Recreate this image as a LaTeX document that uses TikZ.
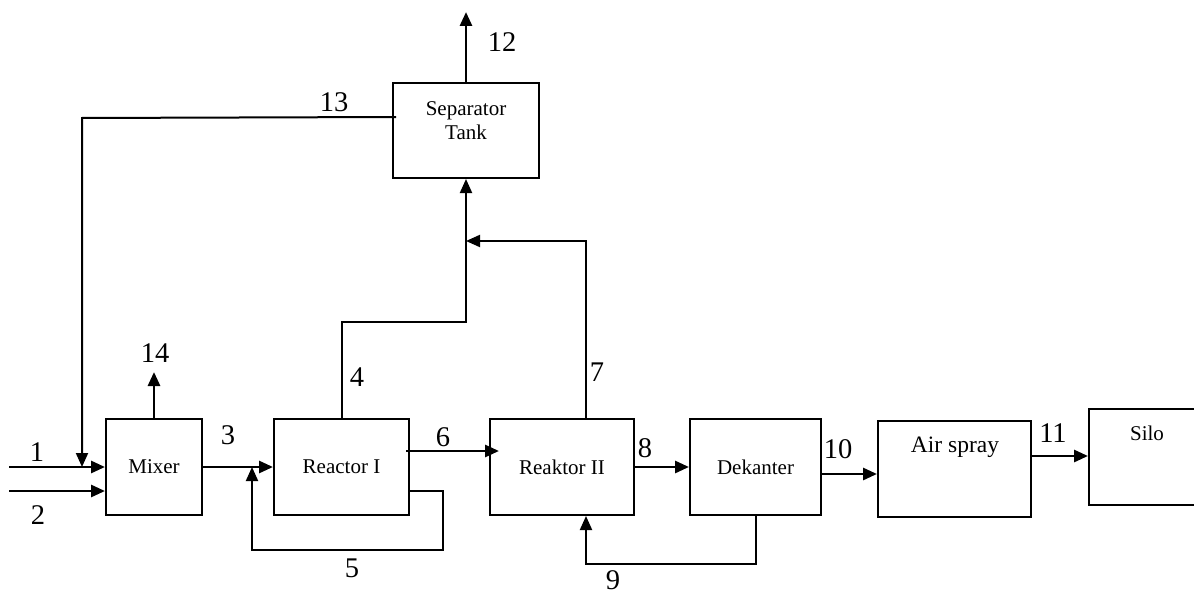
\documentclass[tikz,border=0pt]{standalone}
\usepackage{fontspec}
\setmainfont{Liberation Serif}
\usetikzlibrary{arrows.meta,calc}
\begin{document}
\begin{tikzpicture}[x=1pt,y=-1pt,
  box/.style={draw,line width=2pt,rectangle,inner sep=0pt,font=\fontsize{21}{24}\selectfont},
  boxtext/.style={inner sep=0pt,align=center,font=\fontsize{21}{24}\selectfont},
  flow/.style={line width=2.8pt,-{Triangle[length=14pt,width=12pt]}},
  pipe/.style={line width=2pt},
  pipearrow/.style={line width=2pt,-{Triangle[length=14pt,width=12pt]}},
  num/.style={font=\fontsize{28.5}{30}\selectfont,inner sep=0pt}]
\useasboundingbox (0,0) rectangle (1194,594);
% units
\node[box,minimum width=96pt,minimum height=96pt] (mixer) at (154,467) {Mixer};
\node[box,minimum width=135pt,minimum height=96pt] (r1) at (341.5,467) {Reactor I};
\node[box,minimum width=144pt,minimum height=96pt] (r2) at (562,467) {Reaktor II};
\node[box,minimum width=131pt,minimum height=96pt] (dek) at (755.5,467) {Dekanter};
\node[box,minimum width=153pt,minimum height=96pt] (air) at (954.5,469) {};
\node[boxtext,font=\fontsize{23.5}{26}\selectfont] (airtext) at (955,447) {Air spray};
\node[box,minimum width=111pt,minimum height=96pt] (silo) at (1144.5,457) {};
\node[boxtext] (silotext) at (1147,433) {Silo};
\node[box,minimum width=146pt,minimum height=95pt] (sep) at (466,130.5) {};
\node[boxtext] (septext) at (466,121) {Separator\\Tank};
% helper coordinates
\coordinate (in1) at (9,467);
\coordinate (in2) at (9,491);
\coordinate (j13) at (82,118);
\coordinate (m1) at (82,467);
\coordinate (j7) at (466,241);
% streams
\draw[flow] (in1) -- (mixer.west);
\draw[flow] (in2) -- (in2 -| mixer.west);
\draw[pipearrow] ($(sep.north west)+(4,35)$) -- (j13) -- (m1);
\draw[flow] (sep.north) -- ++(0,-70);
\draw[flow] (mixer.north) -- ++(0,-46);
\draw[flow] (mixer.east) -- (r1.west);
\draw[pipearrow] ($(r1.east)+(0,24)$) -- ++(33,0) -- ++(0,59) -- ++(-191,0) -- ++(0,-83);
\draw[pipearrow] (r1.north) -- ++(0,-96) -| (sep.south);
\draw[pipearrow] ($(r2.north)+(24,0)$) |- (j7);
\draw[flow] ($(r1.east)+(-4,-16)$) -- ($(r2.west)+(10,-16)$);
\draw[flow] (r2.east) -- (dek.west);
\draw[pipearrow] (dek.south) -- ++(0,48) -| ($(r2.south)+(24,0)$);
\draw[flow] ($(dek.east)+(0,7)$) -- ($(air.west)+(0,5)$);
\draw[flow] ($(air.east)+(0,-13)$) -- ($(silo.west)+(0,-1)$);
% stream numbers
\node[num] (n1) at (37,452) {1};
\node[num] (n2) at (38,515) {2};
\node[num] (n3) at (228,435) {3};
\node[num] (n4) at (357,377) {4};
\node[num] (n5) at (352,568) {5};
\node[num] (n6) at (443,437) {6};
\node[num] (n7) at (597,372) {7};
\node[num] (n8) at (645,448) {8};
\node[num] (n9) at (613,580) {9};
\node[num] (n10) at (838,449) {10};
\node[num] (n11) at (1053,433) {11};
\node[num] (n12) at (502,42) {12};
\node[num] (n13) at (334,102) {13};
\node[num] (n14) at (155,353) {14};
\end{tikzpicture}
\end{document}
